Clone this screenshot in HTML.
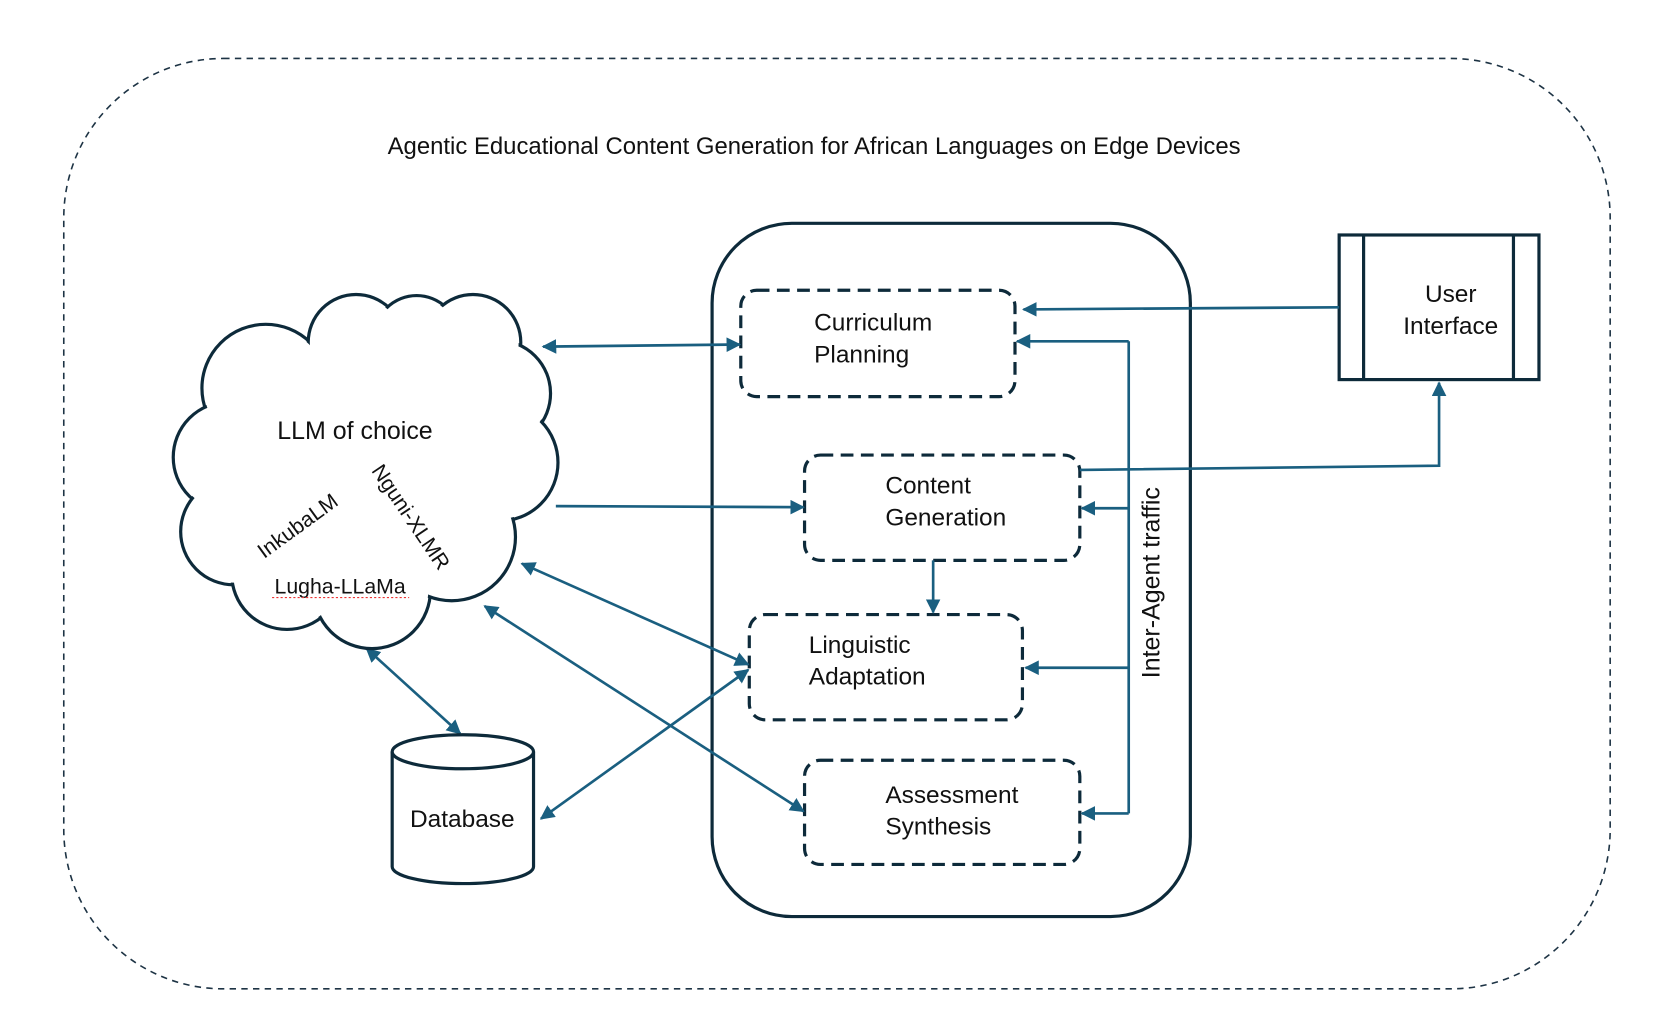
<!DOCTYPE html>
<html><head><meta charset="utf-8"><style>html,body{margin:0;padding:0;background:#fff}svg{display:block}</style></head>
<body>
<svg width="1658" height="1025" viewBox="0 0 1560 964" preserveAspectRatio="none" xmlns="http://www.w3.org/2000/svg" font-family="Liberation Sans, sans-serif">
<defs>
<marker id="a" viewBox="0 0 10 10" refX="9" refY="5" markerWidth="5.5" markerHeight="5.5" orient="auto-start-reverse"><path d="M0,0L10,5L0,10z" fill="#1a5f80"/></marker>
</defs>
<rect x="60" y="55" width="1455" height="875" rx="150" fill="none" stroke="#1d3344" stroke-width="1.5" stroke-dasharray="6,5"/>
<text x="766" y="145" font-size="22.5" text-anchor="middle" fill="#111">Agentic Educational Content Generation for African Languages on Edge Devices</text>
<rect x="670" y="210" width="450" height="652" rx="75" fill="none" stroke="#0d2a3a" stroke-width="3"/>
<g fill="none" stroke="#0d2a3a" stroke-width="3" stroke-dasharray="12,7">
<rect x="697" y="273" width="258" height="100" rx="15"/>
<rect x="757" y="428" width="259" height="99" rx="15"/>
<rect x="705" y="578" width="257" height="99" rx="15"/>
<rect x="757" y="715" width="259" height="98" rx="15"/>
</g>
<g font-size="23" fill="#111">
<text x="766" y="311">Curriculum</text><text x="766" y="341">Planning</text>
<text x="833" y="464">Content</text><text x="833" y="494">Generation</text>
<text x="761" y="614">Linguistic</text><text x="761" y="644">Adaptation</text>
<text x="833" y="755">Assessment</text><text x="833" y="785">Synthesis</text>
</g>
<rect x="1260" y="221" width="188" height="136" fill="#fff" stroke="#0d2a3a" stroke-width="3"/>
<line x1="1283" y1="221" x2="1283" y2="357" stroke="#0d2a3a" stroke-width="3"/>
<line x1="1424" y1="221" x2="1424" y2="357" stroke="#0d2a3a" stroke-width="3"/>
<text x="1365" y="284" font-size="23" text-anchor="middle" fill="#111">User</text>
<text x="1365" y="314" font-size="23" text-anchor="middle" fill="#111">Interface</text>
<g stroke="#1a5f80" stroke-width="2.5" fill="none">
<line x1="1260" y1="289" x2="963" y2="291" marker-end="url(#a)"/>
<line x1="1062" y1="321" x2="1062" y2="765"/>
<line x1="1062" y1="321" x2="957" y2="321" marker-end="url(#a)"/>
<line x1="1062" y1="478" x2="1018" y2="478" marker-end="url(#a)"/>
<line x1="1062" y1="628" x2="965" y2="628" marker-end="url(#a)"/>
<line x1="1062" y1="765" x2="1018" y2="765" marker-end="url(#a)"/>
<polyline points="1016,442 1354,438 1354,360" marker-end="url(#a)"/>
<line x1="878" y1="527" x2="878" y2="576" marker-end="url(#a)"/>
<line x1="511" y1="326" x2="696" y2="324" marker-start="url(#a)" marker-end="url(#a)"/>
<line x1="523" y1="476" x2="756" y2="477" marker-end="url(#a)"/>
<line x1="491" y1="530" x2="704" y2="625" marker-start="url(#a)" marker-end="url(#a)"/>
<line x1="456" y1="570" x2="756" y2="763" marker-start="url(#a)" marker-end="url(#a)"/>
<line x1="509" y1="770" x2="704" y2="630" marker-start="url(#a)" marker-end="url(#a)"/>
<line x1="345" y1="610" x2="433" y2="690" marker-start="url(#a)" marker-end="url(#a)"/>
</g>
<text transform="translate(1091,548) rotate(-90)" font-size="23.5" text-anchor="middle" fill="#111">Inter-Agent traffic</text>
<g stroke="#0d2a3a" stroke-width="3" fill="#fff">
<circle cx="250" cy="365" r="60"/><circle cx="335" cy="322" r="45"/><circle cx="392" cy="318" r="40"/><circle cx="445" cy="322" r="45"/>
<circle cx="468" cy="370" r="50"/><circle cx="470" cy="435" r="55"/><circle cx="215" cy="430" r="52"/>
<circle cx="220" cy="500" r="50"/><circle cx="270" cy="540" r="52"/><circle cx="350" cy="555" r="55"/><circle cx="425" cy="505" r="60"/>
</g>
<g fill="#fff">
<circle cx="250" cy="365" r="58"/><circle cx="335" cy="322" r="43"/><circle cx="392" cy="318" r="38"/><circle cx="445" cy="322" r="43"/>
<circle cx="468" cy="370" r="48"/><circle cx="470" cy="435" r="53"/><circle cx="215" cy="430" r="50"/>
<circle cx="220" cy="500" r="48"/><circle cx="270" cy="540" r="50"/><circle cx="350" cy="555" r="53"/><circle cx="425" cy="505" r="58"/>
<circle cx="335" cy="440" r="110"/><circle cx="390" cy="360" r="50"/>
</g>
<text x="334" y="413" font-size="23.5" text-anchor="middle" fill="#111">LLM of choice</text>
<text transform="translate(284,500) rotate(-36)" font-size="20" text-anchor="middle" fill="#111">InkubaLM</text>
<text transform="translate(381,490) rotate(56)" font-size="20" text-anchor="middle" fill="#111">Nguni-XLMR</text>
<text x="320" y="558" font-size="20" text-anchor="middle" fill="#111">Lugha-LLaMa</text>
<path d="M256,562 L385,562" stroke="#e33" stroke-width="1" stroke-dasharray="2,2"/>
<path d="M369,707 L369,815 A66.5,16 0 0 0 502,815 L502,707" fill="#fff" stroke="#0d2a3a" stroke-width="3"/>
<ellipse cx="435.5" cy="707" rx="66.5" ry="16" fill="#fff" stroke="#0d2a3a" stroke-width="3"/>
<text x="435" y="778" font-size="23" text-anchor="middle" fill="#111">Database</text>
</svg>
</body></html>
